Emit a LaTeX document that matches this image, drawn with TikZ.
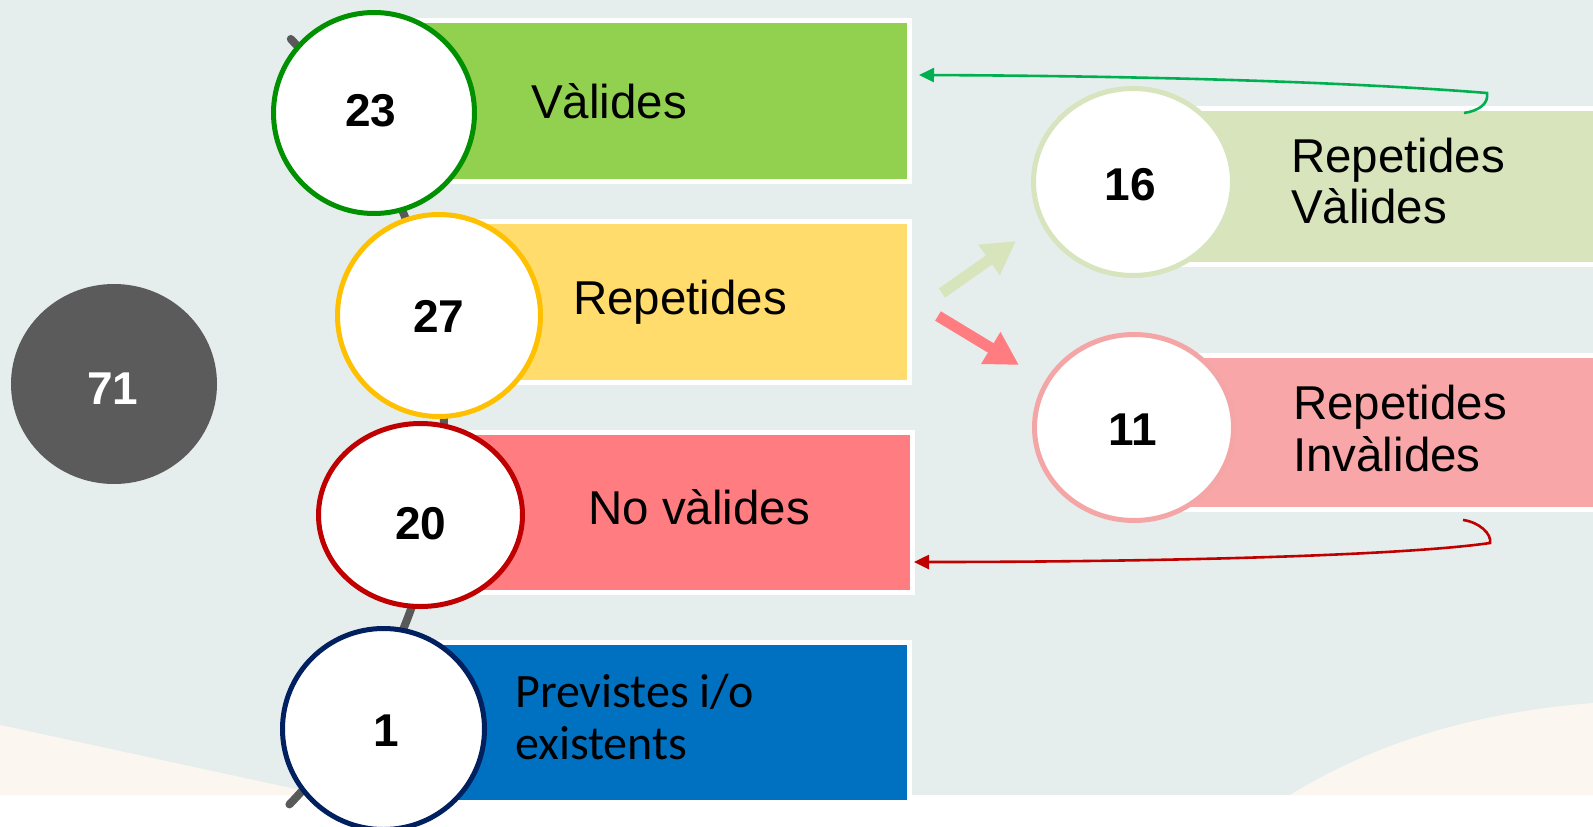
\documentclass[tikz,border=0pt]{standalone}
\usepackage{fontspec}
\setmainfont{Liberation Sans}
\newfontfamily\calfont{Carlito}
\usetikzlibrary{arrows.meta,shapes.geometric}
\definecolor{bg}{HTML}{E5EEEC}
\definecolor{cream}{HTML}{FBF7F0}
\definecolor{arcgrey}{HTML}{595959}
\definecolor{darkdisc}{HTML}{5B5B5B}
\definecolor{greenbar}{HTML}{92D050}
\definecolor{greenring}{HTML}{009000}
\definecolor{yellowbar}{HTML}{FFDC6B}
\definecolor{yellowring}{HTML}{FFC000}
\definecolor{redbar}{HTML}{FF7C80}
\definecolor{redring}{HTML}{C00000}
\definecolor{bluebar}{HTML}{0070C0}
\definecolor{bluering}{HTML}{002060}
\definecolor{lgreenbar}{HTML}{D8E4BC}
\definecolor{lgreenring}{HTML}{D7E4BD}
\definecolor{pinkbar}{HTML}{F8A6A7}
\definecolor{pinkring}{HTML}{F4A6A7}
\definecolor{garrowcol}{HTML}{00B050}
\definecolor{rarrowcol}{HTML}{C00000}
\tikzset{
  bar/.style={rectangle, draw=white, line width=5pt, inner sep=0pt, anchor=north west},
  disc/.style={ellipse, draw, fill=white, line width=5pt, inner sep=0pt},
  num/.style={font=\bfseries\fontsize{46}{46}\selectfont, inner sep=0pt},
  lbl/.style={font=\fontsize{47.5}{51}\selectfont, inner sep=0pt, anchor=base west},
  clbl/.style={font=\calfont\fontsize{48}{52}\selectfont, inner sep=0pt, anchor=base west},
  blockarrow/.style={line width=11pt, -{Triangle[length=33pt,width=35pt]}},
  backarrow/.style={line width=2.6pt, -{Triangle[length=15pt,width=14pt]}}
}
\begin{document}
\begin{tikzpicture}[x=1pt,y=-1pt]
\useasboundingbox (0,0) rectangle (1593,827);
% background
\fill[bg] (0,0) rectangle (1593,795);
\fill[white] (0,795) rectangle (1593,827);
\fill[cream] (0,725) -- (300,790) -- (300,795) -- (0,795) -- cycle;
\fill[cream] (1290,795) .. controls (1380,740) and (1480,712) .. (1593,703) -- (1593,795) -- cycle;
% connecting arc
\draw[arcgrey, line width=8pt, line cap=round] plot[domain=-43.7:43.9, samples=90] ({-109+553*cos(\x)},{421+553*sin(\x)});
% bars
\node[bar, fill=greenbar, minimum width=531.5pt, minimum height=161pt] (bv) at (375,17.5) {};
\node[bar, fill=yellowbar, minimum width=467.5pt, minimum height=161pt] (br) at (439,218.5) {};
\node[bar, fill=redbar, minimum width=489.5pt, minimum height=160pt] (bn) at (420,429.5) {};
\node[bar, fill=bluebar, minimum width=522.5pt, minimum height=160pt] (bp) at (384,639.5) {};
\node[bar, fill=lgreenbar, minimum width=470pt, minimum height=156pt] (brv) at (1132,105.5) {};
\node[bar, fill=pinkbar, minimum width=470pt, minimum height=154pt] (bri) at (1133,352.5) {};
% discs
\node[ellipse, fill=darkdisc, inner sep=0pt, minimum width=206pt, minimum height=200pt] (c71) at (114,384) {};
\node[disc, draw=greenring, minimum width=201pt, minimum height=201pt] (c23) at (374,113) {};
\node[disc, draw=yellowring, minimum width=203pt, minimum height=202pt] (c27) at (439,315.5) {};
\node[disc, draw=redring, minimum width=204pt, minimum height=183pt] (c20) at (420.5,515) {};
\node[disc, draw=bluering, minimum width=202pt, minimum height=201pt] (c1) at (383.5,729) {};
\node[disc, draw=lgreenring, minimum width=199pt, minimum height=187pt] (c16) at (1133,182) {};
\node[disc, draw=pinkring, minimum width=199pt, minimum height=186pt] (c11) at (1134,427.5) {};
% numbers
\node[num, text=white] (n71) at (113,389) {71};
\node[num] (n23) at (371,110.5) {23};
\node[num] (n27) at (439,316) {27};
\node[num] (n20) at (421,524) {20};
\node[num] (n1) at (386,731) {1};
\node[num] (n16) at (1130,185) {16};
\node[num] (n11) at (1133,430) {11};
% labels
\node[lbl] (tv) at (531,118) {Vàlides};
\node[lbl] (tr) at (573,314) {Repetides};
\node[lbl] (tn) at (588,524) {No vàlides};
\node[clbl] (tp1) at (515,707) {Previstes i/o};
\node[clbl] (tp2) at (515,759) {existents};
\node[lbl] (trv1) at (1291,172) {Repetides};
\node[lbl] (trv2) at (1291,223) {Vàlides};
\node[lbl] (tri1) at (1293,419) {Repetides};
\node[lbl] (tri2) at (1293,471) {Invàlides};
% block arrows
\coordinate (ga0) at (942,293);
\coordinate (ga1) at (1016,241);
\coordinate (ra0) at (938,316);
\coordinate (ra1) at (1019,365);
\draw[blockarrow, lgreenbar] (ga0) -- (ga1);
\draw[blockarrow, redbar] (ra0) -- (ra1);
% curved back arrows
\coordinate (gs) at (1464,113);
\coordinate (gk) at (1487,93);
\coordinate (gt) at (919,75);
\draw[backarrow, garrowcol] (gs) .. controls (1478,111) and (1489,104) .. (gk) .. controls (1350,82) and (1150,76) .. (gt);
\coordinate (rs) at (1463,520);
\coordinate (rk) at (1490,543);
\coordinate (rt) at (914,562);
\draw[backarrow, rarrowcol] (rs) .. controls (1479,522) and (1492,534) .. (rk) .. controls (1400,556) and (1150,562) .. (rt);
\end{tikzpicture}
\end{document}
